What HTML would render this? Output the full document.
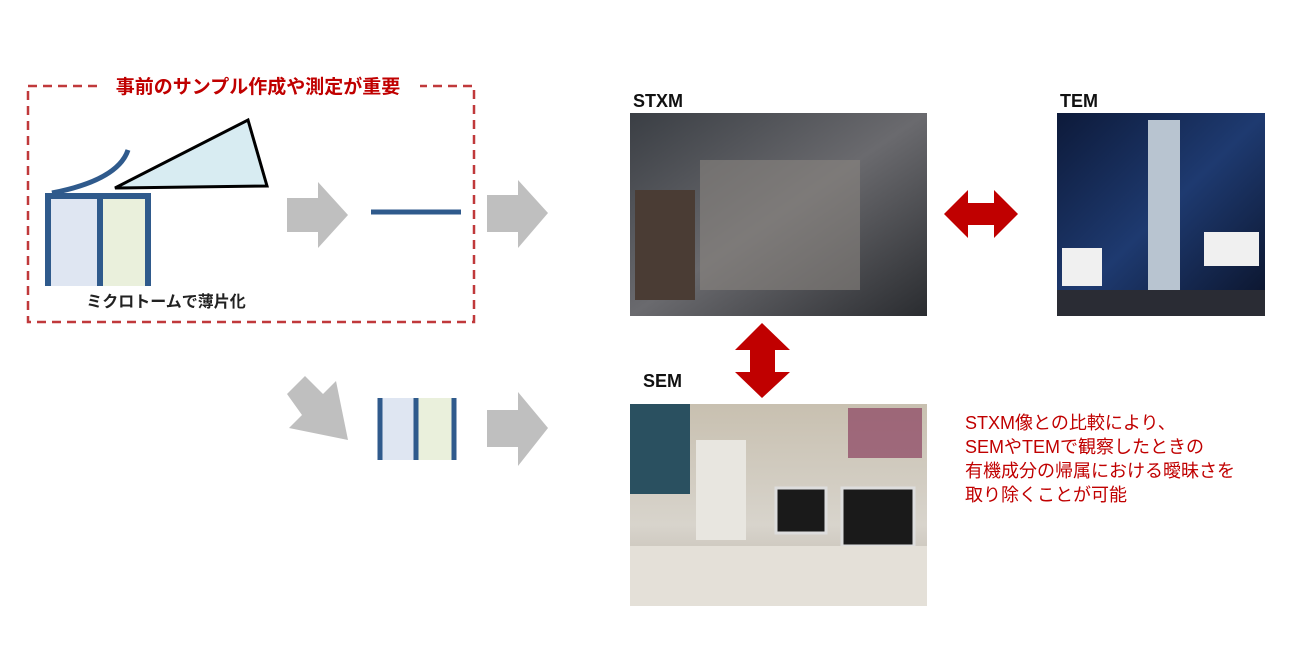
<!DOCTYPE html>
<html><head><meta charset="utf-8"><style>
body{margin:0;background:#fff}
svg{display:block}
text{font-family:"Liberation Sans","Noto Sans CJK JP",sans-serif}
</style></head><body>
<svg width="1300" height="650" viewBox="0 0 1300 650" xmlns="http://www.w3.org/2000/svg">
<defs>
<linearGradient id="stxm" x1="0" y1="0" x2="1" y2="1"><stop offset="0" stop-color="#3a3e44"/><stop offset="0.5" stop-color="#6a6a6e"/><stop offset="1" stop-color="#2a2c30"/></linearGradient>
<linearGradient id="tem" x1="0" y1="0" x2="1" y2="1"><stop offset="0" stop-color="#0d1a3a"/><stop offset="0.5" stop-color="#1e3a70"/><stop offset="1" stop-color="#0a1228"/></linearGradient>
<linearGradient id="sem" x1="0" y1="0" x2="0" y2="1"><stop offset="0" stop-color="#c8c0b0"/><stop offset="0.6" stop-color="#d8d4cc"/><stop offset="1" stop-color="#b8b0a4"/></linearGradient>
</defs>
<rect x="28" y="86" width="446" height="236" fill="none" stroke="#c0393b" stroke-width="2.5" stroke-dasharray="9,6"/>
<rect x="98" y="72" width="322" height="26" fill="#fff"/>
<text x="258" y="93" text-anchor="middle" font-size="19" font-weight="bold" fill="#c00000">事前のサンプル作成や測定が重要</text>
<rect x="49" y="197" width="50" height="89" fill="#dfe6f2"/>
<rect x="103" y="197" width="44" height="89" fill="#eaf0dc"/>
<path d="M48 286 V196 H148 V286 M100 196 V286" fill="none" stroke="#2f5a8c" stroke-width="6"/>
<path d="M52 193 Q118 180 128 150" fill="none" stroke="#2f5a8c" stroke-width="5"/>
<polygon points="115,188 248,120 267,186" fill="#d8ecf2" stroke="#000" stroke-width="3"/>
<text x="166" y="307" text-anchor="middle" font-size="16" font-weight="bold" fill="#222">ミクロトームで薄片化</text>
<polygon points="287,198 318,198 318,182 348,215 318,248 318,232 287,232" fill="#bfbfbf"/>
<polygon points="487,195 518,195 518,180 548,213 518,248 518,232 487,232" fill="#bfbfbf"/>
<polygon points="487,410 518,410 518,392 548,428 518,466 518,447 487,447" fill="#bfbfbf"/>
<polygon points="287,394 305,376 323,394 336,381 348,440 289,428 302,415" fill="#bfbfbf"/>
<line x1="371" y1="212" x2="461" y2="212" stroke="#2f5a8c" stroke-width="5"/>
<rect x="380" y="398" width="34" height="62" fill="#dfe6f2"/>
<rect x="418" y="398" width="36" height="62" fill="#eaf0dc"/>
<path d="M380 398 V460 M416 398 V460 M454 398 V460" stroke="#2f5a8c" stroke-width="5"/>
<rect x="630" y="113" width="297" height="203" fill="url(#stxm)"/>
<rect x="700" y="160" width="160" height="130" fill="#8a8680" opacity="0.6"/>
<rect x="635" y="190" width="60" height="110" fill="#4a3c34"/>
<rect x="1057" y="113" width="208" height="203" fill="url(#tem)"/>
<rect x="1148" y="120" width="32" height="170" fill="#b8c4d0"/>
<rect x="1062" y="248" width="40" height="38" fill="#f0f0f0"/>
<rect x="1204" y="232" width="55" height="34" fill="#f0f0f0"/>
<rect x="1057" y="290" width="208" height="26" fill="#2a2c34"/>
<rect x="630" y="404" width="297" height="202" fill="url(#sem)"/>
<rect x="630" y="404" width="60" height="90" fill="#2a5060"/>
<rect x="776" y="488" width="50" height="45" fill="#1a1a1a" stroke="#ddd" stroke-width="3"/>
<rect x="842" y="488" width="72" height="58" fill="#1a1a1a" stroke="#ddd" stroke-width="3"/>
<rect x="696" y="440" width="50" height="100" fill="#e8e6e0"/>
<rect x="848" y="408" width="74" height="50" fill="#8a4060" opacity="0.7"/>
<rect x="630" y="546" width="297" height="60" fill="#e4e0d8"/>
<text x="633" y="107" font-size="18" font-weight="bold" fill="#111">STXM</text>
<text x="1060" y="107" font-size="18" font-weight="bold" fill="#111">TEM</text>
<text x="643" y="387" font-size="18" font-weight="bold" fill="#111">SEM</text>
<polygon points="944,214 968,190 968,203 994,203 994,190 1018,214 994,238 994,225 968,225 968,238" fill="#c00000"/>
<polygon points="762,323 790,350 775,350 775,372 790,372 762,398 735,372 750,372 750,350 735,350" fill="#c00000"/>
<text font-size="18" fill="#c00000"><tspan x="965" y="429">STXM像との比較により、</tspan><tspan x="965" y="453">SEMやTEMで観察したときの</tspan><tspan x="965" y="477">有機成分の帰属における曖昧さを</tspan><tspan x="965" y="501">取り除くことが可能</tspan></text>
</svg>
</body></html>
